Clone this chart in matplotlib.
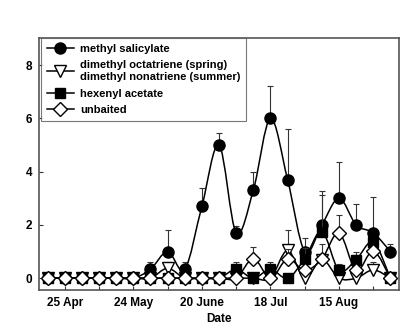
import numpy as np
import matplotlib
matplotlib.use("Agg")
import matplotlib.pyplot as plt
from matplotlib.path import Path
from matplotlib.patches import PathPatch

plt.rcParams['font.family'] = ['Liberation Sans', 'DejaVu Sans']
plt.rcParams['font.weight'] = 'bold'

# weekly sampling dates (index positions), labelled every 4 weeks
weeks = np.arange(21)
tick_pos = [1, 3, 5, 7, 9, 11, 13, 15, 17, 19]
tick_labels = ['25 Apr', '', '24 May', '', '20 June', '', '18 Jul', '', '15 Aug', '']

# mean catches and upper error (SE)
ms = [0, 0, 0, 0, 0, 0, 0.33, 1.0, 0.33, 2.7, 5.0, 1.7, 3.3, 6.0, 3.7, 1.0, 2.0, 3.0, 2.0, 1.7, 1.0]
ms_err = [0, 0, 0, 0, 0, 0, 0.27, 0.8, 0.27, 0.67, 0.46, 0.27, 0.7, 1.2, 1.9, 0.5, 1.28, 1.37, 0.79, 1.36, 0.29]

dmt = [0, 0, 0, 0, 0, 0, 0, 0.37, 0, 0, 0, 0, 0, 0, 1.04, 0, 0.7, 0, 0, 0.31, 0]
dmt_err = [0, 0, 0, 0, 0, 0, 0, 0.23, 0, 0, 0, 0, 0, 0, 0.75, 0, 0, 0, 0, 0.29, 0]

hex_ac = [0, 0, 0, 0, 0, 0, 0, 0, 0, 0, 0, 0.33, 0, 0.33, 0, 0.73, 1.75, 0.29, 0.7, 1.35, 0]
hex_err = [0, 0, 0, 0, 0, 0, 0, 0, 0, 0, 0, 0.27, 0, 0.27, 0, 0.4, 1.37, 0.25, 0.3, 0, 0]

unb = [0, 0, 0, 0, 0, 0, 0, 0, 0, 0, 0, 0, 0.73, 0, 0.73, 0.29, 0.72, 1.7, 0.29, 1.02, 0]
unb_err = [0, 0, 0, 0, 0, 0, 0, 0, 0, 0, 0, 0, 0.43, 0, 0.37, 0, 0.57, 0.69, 0, 0, 0]


def spline_path(x, y):
    # catmull-rom curve through the points, as cubic bezier segments
    pts = np.column_stack([x, y]).astype(float)
    ext = np.vstack([pts[0], pts, pts[-1]])
    verts = [pts[0]]
    codes = [Path.MOVETO]
    for i in range(len(pts) - 1):
        p0, p1, p2, p3 = ext[i], ext[i + 1], ext[i + 2], ext[i + 3]
        verts += [p1 + (p2 - p0) / 6, p2 - (p3 - p1) / 6, p2]
        codes += [Path.CURVE4] * 3
    return Path(verts, codes)


fig = plt.figure(figsize=(4.2, 3.26), dpi=100)
ax = fig.add_axes([0.093, 0.11, 0.857, 0.772])

series = [
    (ms, ms_err, 'o', 'black', 8, 'methyl salicylate'),
    (dmt, dmt_err, 'v', 'white', 8, 'dimethyl octatriene (spring)\ndimethyl nonatriene (summer)'),
    (hex_ac, hex_err, 's', 'black', 7, 'hexenyl acetate'),
    (unb, unb_err, 'D', 'white', 7, 'unbaited'),
]

handles = []
for k, (vals, errs, mk, fc, size, label) in enumerate(series):
    z = 3 + k
    vals = np.array(vals)
    errs = np.array(errs)
    ax.add_patch(PathPatch(spline_path(weeks, vals), fill=False, edgecolor='black',
                           linewidth=1.1, zorder=z))
    has = errs > 0
    ax.errorbar(weeks[has], vals[has], yerr=[np.zeros(has.sum()), errs[has]], fmt='none',
                ecolor='#333333', elinewidth=0.8, capsize=2.5, capthick=0.8, zorder=z - 0.5)
    ax.plot(weeks, vals, linestyle='none', marker=mk, markerfacecolor=fc,
            markeredgecolor='black', markeredgewidth=1.0, markersize=size, zorder=z)
    handles.append(plt.Line2D([], [], color='black', linewidth=1.1, marker=mk,
                              markerfacecolor=fc, markeredgecolor='black',
                              markeredgewidth=1.0, markersize=size, label=label))

ax.set_xlim(-0.5, 20.5)
ax.set_ylim(-0.45, 9)
ax.set_yticks([0, 2, 4, 6, 8])
ax.set_xticks(tick_pos)
ax.set_xticklabels(tick_labels)
ax.tick_params(direction='in', length=3, width=0.8, labelsize=8.5, color='#333333', pad=5)
ax.set_xlabel('Date', fontsize=8.5, fontweight='bold', labelpad=2.5)
for s in ax.spines.values():
    s.set_color('#555555')
    s.set_linewidth(1.2)

leg = ax.legend(handles=handles, loc='upper left', bbox_to_anchor=(0.0, 1.01),
                fontsize=8, frameon=True, fancybox=False, handlelength=2.4,
                handletextpad=0.6, borderpad=0.5, labelspacing=0.6, borderaxespad=0.2)
leg.get_frame().set_edgecolor('#555555')
leg.get_frame().set_linewidth(0.8)

fig.savefig('out.png', dpi=100)
